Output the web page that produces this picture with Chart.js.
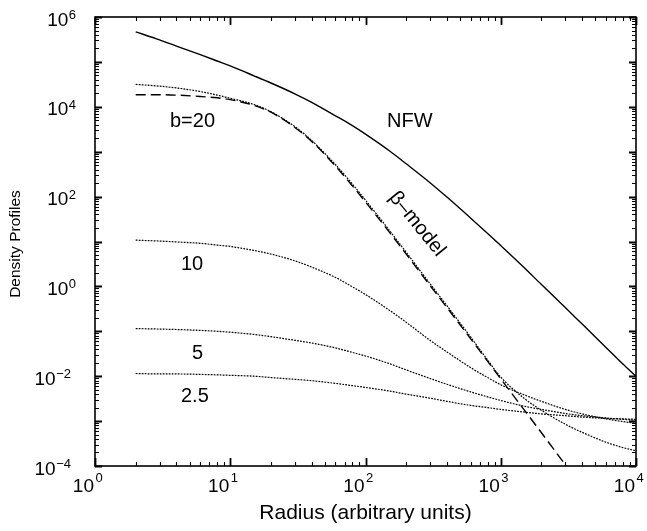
<!DOCTYPE html>
<html>
<head>
<meta charset="utf-8">
<script src="https://cdn.jsdelivr.net/npm/chart.js@4.4.1/dist/chart.umd.min.js"></script>
<style>
  html, body { margin: 0; padding: 0; background: #fff; }
  #wrap { width: 647px; height: 531px; }
</style>
</head>
<body>
<div id="wrap"><canvas id="densityChart" width="647" height="531"></canvas></div>
<script>
// radius samples (arbitrary units)
const radius = [2, 3, 4, 6, 8, 10, 15, 20, 30, 40, 60, 80, 100, 150, 200, 300, 400, 600, 800, 1000, 1500, 2000, 3000, 4000, 6000, 8000, 10000];

// profiles, as powers of ten
const nfwExp  = [5.67, 5.49, 5.35, 5.16, 5.02, 4.91, 4.69, 4.53, 4.29, 4.10, 3.80, 3.58, 3.39, 3.02, 2.73, 2.31, 1.99, 1.52, 1.18, 0.91, 0.41, 0.04, -0.47, -0.84, -1.36, -1.73, -2.00];
const betaExp = [4.27, 4.27, 4.26, 4.23, 4.20, 4.16, 4.03, 3.88, 3.54, 3.23, 2.68, 2.24, 1.88, 1.21, 0.72, 0.02, -0.47, -1.17, -1.67, -2.06, -2.76, -3.26, -3.97, -4.47];
const b20Exp  = [4.50, 4.46, 4.42, 4.34, 4.26, 4.19, 4.05, 3.89, 3.56, 3.25, 2.71, 2.28, 1.92, 1.25, 0.76, 0.06, -0.43, -1.13, -1.64, -2.02, -2.50, -2.76, -3.07, -3.25, -3.47, -3.59, -3.66];
const b10Exp  = [1.03, 1.01, 0.99, 0.96, 0.92, 0.89, 0.80, 0.72, 0.57, 0.43, 0.20, -0.01, -0.18, -0.53, -0.80, -1.20, -1.46, -1.81, -2.03, -2.19, -2.42, -2.56, -2.74, -2.84, -2.95, -3.01, -3.05];
const b5Exp   = [-0.94, -0.95, -0.96, -0.98, -1.00, -1.02, -1.07, -1.12, -1.20, -1.26, -1.37, -1.47, -1.55, -1.72, -1.86, -2.05, -2.18, -2.35, -2.46, -2.54, -2.67, -2.74, -2.83, -2.88, -2.93, -2.96, -2.98];
const b25Exp  = [-1.94, -1.95, -1.95, -1.96, -1.97, -1.98, -2.00, -2.03, -2.07, -2.10, -2.16, -2.21, -2.25, -2.33, -2.40, -2.49, -2.56, -2.65, -2.70, -2.74, -2.80, -2.84, -2.88, -2.91, -2.94, -2.95, -2.96];

// tick labels (exponents of ten)
const xTickExp = [0, 1, 2, 3, 4];
const yTickExp = [-4, -2, 0, 2, 4, 6];

const FONT = '"Liberation Sans", Arial, Helvetica, sans-serif';

function toPoints(exps) {
  return exps.map((e, i) => ({ x: radius[i], y: Math.pow(10, e) }));
}

function expText(e) {
  return e < 0 ? '\u2212' + Math.abs(e) : String(e);
}

const frameAndLabels = {
  id: 'frameAndLabels',
  afterDraw(chart) {
    const ctx = chart.ctx;
    const { left, right, top, bottom } = chart.chartArea;
    const xs = chart.scales.x;
    const ys = chart.scales.y;
    ctx.save();
    ctx.strokeStyle = '#000';
    ctx.fillStyle = '#000';

    // ticks on all four sides, pointing in; decades a bit heavier
    [false, true].forEach(major => {
      ctx.lineWidth = major ? 1.8 : 1.1;
      ctx.beginPath();
      for (let e = 0; e <= 4; e++) {
        for (let m = 1; m <= 9; m++) {
          if ((m === 1) !== major) continue;
          const v = m * Math.pow(10, e);
          if (v > 1e4) break;
          const px = Math.round(xs.getPixelForValue(v)) + 0.5;
          const len = major ? 8 : 4;
          ctx.moveTo(px, bottom); ctx.lineTo(px, bottom - len);
          ctx.moveTo(px, top); ctx.lineTo(px, top + len);
        }
      }
      for (let e = -4; e <= 6; e++) {
        for (let m = 1; m <= 9; m++) {
          if ((m === 1) !== major) continue;
          const v = m * Math.pow(10, e);
          if (v > 1e6) break;
          const py = Math.round(ys.getPixelForValue(v)) + 0.5;
          const len = major ? 7 : 4;
          ctx.moveTo(left, py); ctx.lineTo(left + len, py);
          ctx.moveTo(right, py); ctx.lineTo(right - len, py);
        }
      }
      ctx.stroke();
    });

    // frame
    ctx.lineWidth = 1.6;
    ctx.strokeRect(left, top, right - left, bottom - top);

    // x tick labels
    ctx.textBaseline = 'alphabetic';
    xTickExp.forEach(e => {
      const px = xs.getPixelForValue(Math.pow(10, e));
      ctx.font = '19px ' + FONT;
      ctx.textAlign = 'right';
      ctx.fillText('10', px - 1, bottom + 26);
      ctx.font = '13px ' + FONT;
      ctx.textAlign = 'left';
      ctx.fillText(expText(e), px + 0.5, bottom + 16);
    });

    // y tick labels
    yTickExp.forEach(e => {
      const py = ys.getPixelForValue(Math.pow(10, e));
      const t = expText(e);
      ctx.font = '13px ' + FONT;
      const ew = ctx.measureText(t).width;
      const rightEdge = e < 0 ? 71 : 76;
      ctx.textAlign = 'right';
      ctx.fillText(t, rightEdge, py + 2);
      ctx.font = '19px ' + FONT;
      ctx.fillText('10', rightEdge - ew - 0.5, py + 8.5);
    });

    // axis titles
    ctx.font = '21px ' + FONT;
    ctx.textAlign = 'center';
    ctx.fillText('Radius (arbitrary units)', (left + right) / 2, 519);
    ctx.save();
    ctx.translate(19.5, 244);
    ctx.rotate(-Math.PI / 2);
    ctx.font = '15.5px ' + FONT;
    ctx.fillText('Density Profiles', 0, 0);
    ctx.restore();

    // curve annotations
    ctx.font = '20px ' + FONT;
    ctx.textAlign = 'left';
    ctx.fillText('NFW', 387, 127);
    ctx.fillText('b=20', 170, 127);
    ctx.fillText('10', 181, 270);
    ctx.fillText('5', 192, 359);
    ctx.fillText('2.5', 181, 401.5);

    ctx.save();
    ctx.translate(417, 224);
    ctx.rotate(51 * Math.PI / 180);
    ctx.textAlign = 'center';
    ctx.textBaseline = 'middle';
    ctx.fillText('\u03B2\u2013model', 0, 0);
    ctx.restore();

    ctx.restore();
  }
};

const dotted = [1.8, 1.2];

new Chart(document.getElementById('densityChart').getContext('2d'), {
  type: 'line',
  data: {
    datasets: [
      { label: 'NFW', data: toPoints(nfwExp), borderColor: '#000', borderWidth: 1.4 },
      { label: 'beta-model', data: toPoints(betaExp), borderColor: '#000', borderWidth: 1.4, borderDash: [10, 5] },
      { label: 'b=20', data: toPoints(b20Exp), borderColor: '#000', borderWidth: 1.2, borderDash: dotted },
      { label: 'b=10', data: toPoints(b10Exp), borderColor: '#000', borderWidth: 1.2, borderDash: dotted },
      { label: 'b=5', data: toPoints(b5Exp), borderColor: '#000', borderWidth: 1.2, borderDash: dotted },
      { label: 'b=2.5', data: toPoints(b25Exp), borderColor: '#000', borderWidth: 1.2, borderDash: dotted }
    ]
  },
  options: {
    responsive: false,
    animation: false,
    devicePixelRatio: 1,
    layout: { padding: { left: 95, right: 11, top: 17, bottom: 65 } },
    scales: {
      x: { type: 'logarithmic', min: 1, max: 10000, display: false },
      y: { type: 'logarithmic', min: 1e-4, max: 1e6, display: false }
    },
    elements: {
      point: { radius: 0 },
      line: { cubicInterpolationMode: 'monotone', fill: false }
    },
    plugins: {
      legend: { display: false },
      tooltip: { enabled: false }
    }
  },
  plugins: [frameAndLabels]
});
</script>
</body>
</html>
